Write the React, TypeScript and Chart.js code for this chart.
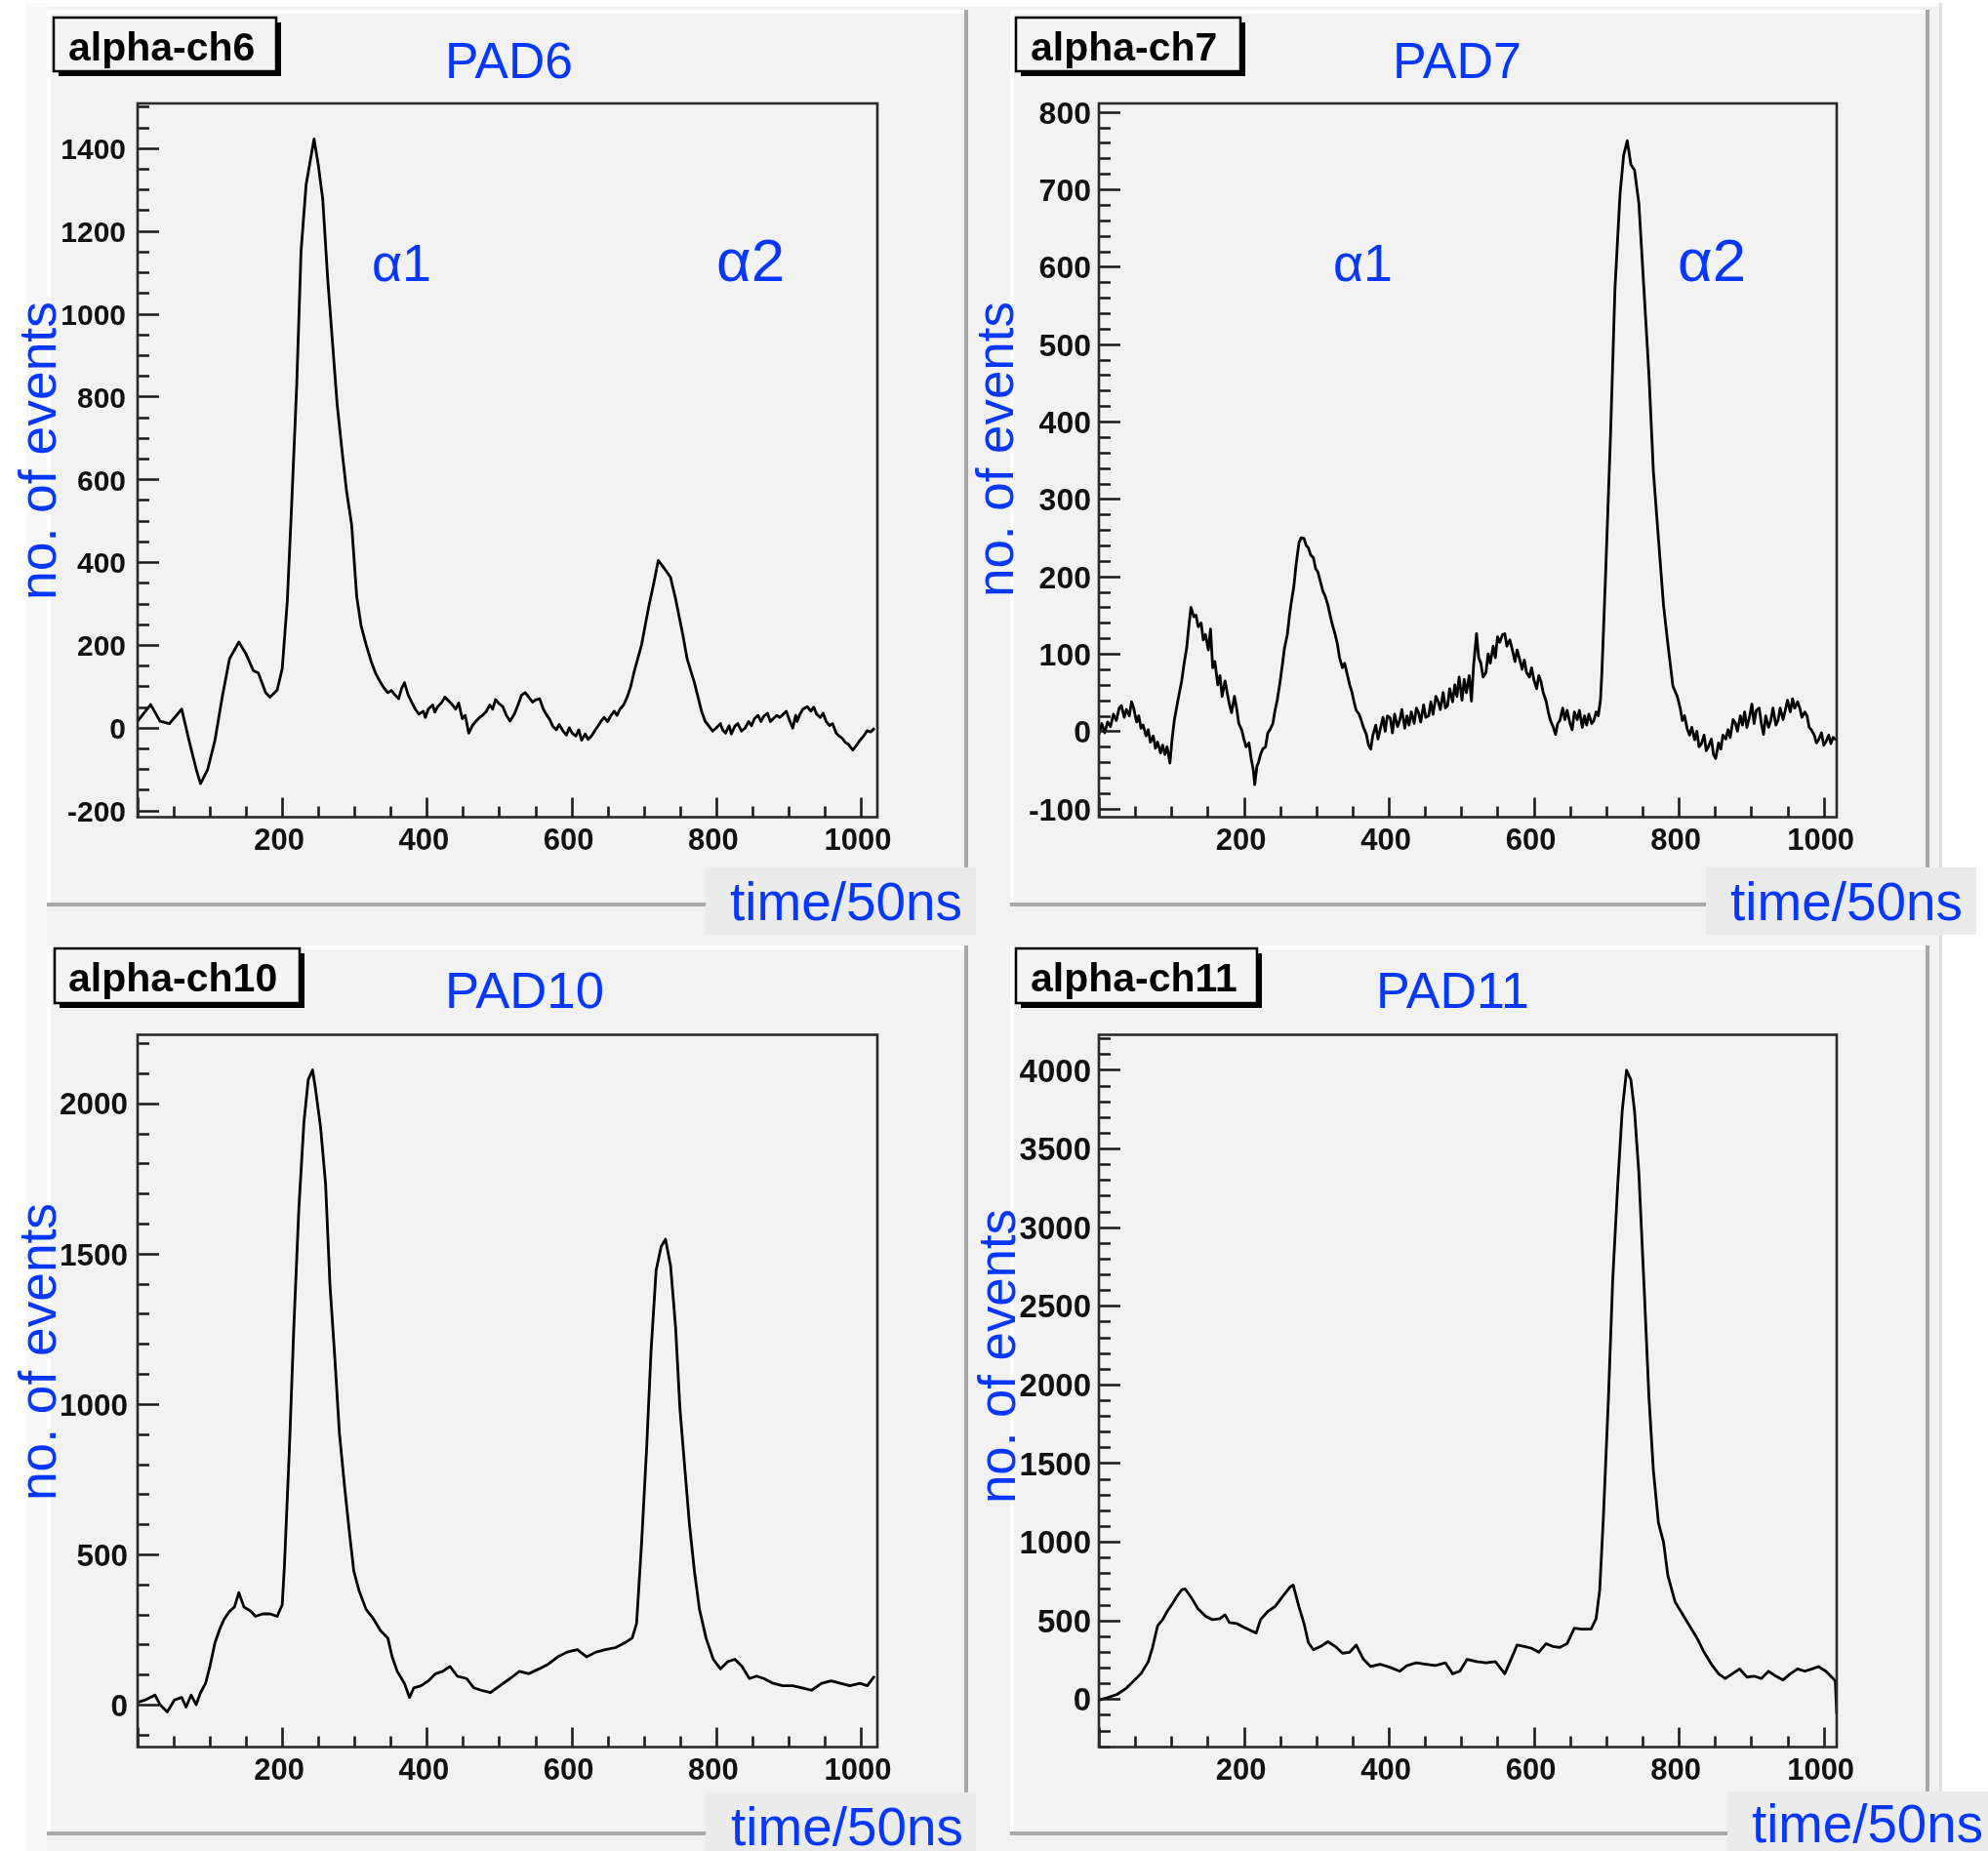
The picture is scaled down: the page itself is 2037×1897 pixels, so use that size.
import React, { useEffect, useRef } from 'react';
import { Chart, registerables } from 'chart.js';

Chart.register(...registerables);

const PAGE_W = 2037;
const PAGE_H = 1897;

// ---------------- data (time bin, counts) ----------------
const ch6Series: Array<[number, number]> = [
  [0,16],[18,56],[31,16],[44,10],[61,45],[71,-30],[81,-100],[87,-135],[97,-100],[107,-30],[117,74],[127,166],[140,207],[150,178],[160,138],[167,132],[177,85],[183,74],[193,91],[200,143],[207,305],[213,537],[220,826],[226,1150],[233,1312],[240,1382],[244,1422],[250,1358],[256,1277],[263,1081],[270,919],[276,780],[283,664],[289,571],[296,490],[303,317],[309,247],[316,201],[323,160],[329,132],[336,109],[341,95],[346,85],[351,90],[356,79],[361,70],[365,95],[369,109],[374,80],[379,62],[384,45],[389,33],[395,40],[398,25],[402,45],[408,55],[411,38],[415,51],[420,60],[425,74],[430,65],[435,56],[440,45],[444,60],[449,22],[453,30],[458,-13],[463,5],[468,16],[473,25],[477,30],[482,39],[487,55],[491,45],[495,68],[500,58],[505,51],[510,30],[515,16],[521,33],[526,55],[531,79],[536,85],[541,74],[546,62],[551,68],[556,70],[561,45],[566,30],[570,20],[574,4],[579,-5],[583,8],[588,-7],[593,-18],[597,0],[601,-13],[606,-20],[610,-5],[614,-30],[619,-15],[623,-28],[628,-19],[633,-5],[637,5],[641,16],[645,25],[650,15],[654,28],[659,40],[663,30],[667,45],[672,55],[677,74],[682,100],[687,138],[697,201],[707,294],[714,351],[720,404],[730,381],[737,363],[744,311],[754,224],[760,166],[770,109],[780,39],[785,15],[790,4],[795,-8],[800,-1],[806,10],[809,-5],[813,-13],[818,5],[821,-15],[826,4],[830,10],[835,-8],[840,-1],[845,15],[849,5],[853,22],[858,30],[862,15],[866,28],[871,35],[875,15],[879,22],[884,30],[888,25],[893,33],[897,40],[901,20],[906,-1],[910,30],[912,15],[916,33],[920,45],[926,51],[931,40],[935,50],[939,33],[944,25],[948,35],[952,16],[957,5],[961,10],[966,-13],[970,-20],[974,-25],[979,-36],[983,-40],[989,-54],[993,-45],[999,-30],[1004,-20],[1009,-7],[1014,-10],[1019,-1]
];
const ch7Series: Array<[number, number]> = [
  [0,-4],[4,10],[8,-2],[12,12],[16,6],[20,22],[24,14],[28,30],[31,33],[35,18],[38,28],[42,20],[45,38],[48,30],[52,12],[55,20],[58,4],[61,8],[65,-6],[68,2],[71,-14],[75,-6],[78,-22],[81,-14],[85,-28],[88,-18],[91,-30],[94,-20],[98,-41],[101,-10],[104,14],[109,40],[114,64],[118,90],[121,107],[124,135],[127,160],[131,148],[134,150],[137,135],[141,140],[144,118],[147,125],[151,105],[154,132],[157,82],[160,90],[164,60],[167,72],[170,45],[174,65],[177,50],[180,35],[183,24],[187,45],[190,30],[193,10],[197,2],[200,-10],[203,-20],[207,-15],[210,-35],[213,-50],[215,-69],[218,-45],[220,-41],[223,-30],[226,-23],[230,-20],[233,-2],[236,2],[240,10],[243,27],[246,40],[250,64],[253,85],[256,107],[260,125],[263,150],[266,170],[269,187],[272,215],[276,243],[279,250],[283,249],[286,240],[289,237],[292,228],[296,224],[299,210],[302,206],[306,192],[309,181],[312,175],[316,163],[319,150],[322,138],[326,125],[329,113],[332,95],[336,82],[339,88],[342,76],[346,60],[349,51],[352,38],[355,27],[359,22],[362,14],[365,5],[369,-4],[372,-18],[375,-23],[378,-5],[382,8],[385,-10],[388,2],[392,18],[395,0],[398,20],[402,17],[405,-2],[408,22],[412,6],[415,14],[418,28],[422,4],[425,20],[428,8],[431,25],[435,10],[438,30],[441,24],[444,12],[448,34],[451,18],[455,20],[458,38],[461,22],[465,45],[468,39],[471,28],[475,50],[478,30],[481,33],[484,55],[488,38],[491,60],[494,45],[497,70],[501,40],[504,67],[507,50],[511,72],[514,39],[517,85],[521,126],[524,95],[527,88],[530,70],[534,76],[537,100],[540,88],[544,110],[547,95],[550,122],[553,115],[557,125],[560,126],[563,110],[567,118],[570,107],[574,90],[577,105],[580,95],[584,80],[587,92],[590,76],[594,70],[597,82],[600,67],[604,55],[607,72],[610,64],[613,50],[617,39],[620,25],[623,14],[627,5],[630,-4],[633,10],[636,14],[640,30],[643,15],[646,27],[650,10],[653,2],[656,25],[660,15],[663,27],[667,5],[670,20],[673,8],[676,22],[680,10],[683,14],[686,25],[689,20],[692,40],[694,76],[699,200],[706,385],[712,571],[719,694],[724,744],[729,763],[734,732],[739,725],[745,682],[752,571],[759,459],[765,336],[772,249],[779,163],[785,113],[792,58],[798,45],[802,30],[805,14],[808,20],[812,2],[815,-5],[818,5],[822,-11],[825,0],[828,-20],[831,-17],[835,-5],[838,-25],[841,-20],[845,-10],[848,-30],[851,-35],[855,-15],[858,-23],[861,-5],[865,-10],[868,2],[871,-8],[875,15],[878,11],[881,0],[885,20],[888,8],[891,25],[894,5],[898,20],[901,35],[904,10],[907,27],[911,30],[914,10],[917,-4],[920,20],[924,5],[927,14],[930,30],[934,8],[937,14],[940,30],[944,15],[947,27],[950,40],[954,25],[957,42],[960,30],[964,38],[967,30],[970,18],[974,25],[977,20],[980,5],[983,2],[987,-5],[990,-15],[993,-11],[997,-2],[1000,-18],[1003,-14],[1007,-5],[1010,-16],[1013,-8],[1017,-11]
];
const ch10Series: Array<[number, number]> = [
  [0,8],[11,16],[24,32],[31,0],[41,-24],[51,16],[61,24],[67,-8],[74,32],[81,0],[87,40],[94,71],[100,127],[107,206],[114,254],[120,286],[127,310],[134,325],[140,373],[147,325],[157,310],[163,294],[173,302],[183,302],[193,294],[200,333],[203,460],[210,857],[216,1254],[223,1651],[230,1937],[236,2079],[242,2111],[246,2048],[253,1921],[260,1730],[266,1397],[273,1143],[279,905],[286,730],[293,571],[299,444],[306,381],[316,317],[326,286],[336,246],[346,222],[352,159],[359,111],[369,71],[376,24],[382,56],[392,63],[402,79],[412,103],[422,111],[432,127],[442,95],[455,87],[465,56],[475,48],[488,40],[501,63],[515,87],[528,111],[541,103],[555,119],[568,135],[581,159],[594,175],[608,183],[621,159],[634,175],[647,183],[661,190],[674,206],[684,222],[690,270],[697,540],[704,857],[710,1175],[717,1444],[724,1524],[730,1548],[737,1460],[744,1254],[750,984],[757,778],[763,603],[770,444],[777,317],[786,222],[796,151],[806,119],[816,143],[826,151],[836,127],[846,87],[856,95],[866,87],[879,71],[892,63],[906,63],[919,56],[932,48],[946,71],[959,79],[972,71],[985,63],[999,71],[1009,63],[1019,95]
];
const ch11Series: Array<[number, number]> = [
  [0,-6],[12,9],[25,30],[38,70],[48,116],[58,161],[68,237],[74,329],[81,466],[88,505],[94,557],[101,603],[107,649],[114,694],[119,700],[127,649],[137,572],[147,527],[157,505],[167,512],[174,536],[180,487],[190,481],[200,457],[210,435],[217,420],[223,505],[233,557],[243,588],[253,649],[263,709],[268,725],[276,588],[283,481],[289,359],[296,314],[306,335],[316,365],[326,335],[336,292],[346,298],[355,344],[365,253],[375,207],[388,222],[402,201],[415,177],[425,213],[438,231],[451,222],[464,213],[478,231],[488,161],[498,177],[508,253],[521,238],[534,231],[547,238],[560,161],[570,268],[577,344],[587,335],[597,323],[607,298],[617,353],[626,335],[636,329],[646,353],[656,451],[666,445],[679,445],[686,512],[691,694],[696,1151],[703,1912],[709,2674],[716,3283],[722,3739],[728,3998],[734,3937],[739,3739],[745,3343],[752,2643],[759,1912],[765,1456],[772,1121],[779,999],[785,786],[795,618],[805,542],[815,466],[825,390],[835,298],[845,222],[855,161],[864,131],[874,161],[884,192],[894,140],[904,146],[914,131],[924,177],[934,146],[944,122],[954,161],[964,192],[974,177],[984,192],[993,207],[1003,177],[1013,131],[1016,116],[1018,-95]
];

// ---------------- tick labels ----------------
const xTickLabels = [200, 400, 600, 800, 1000];
const ch6YTicks = [-200, 0, 200, 400, 600, 800, 1000, 1200, 1400];
const ch7YTicks = [-100, 0, 100, 200, 300, 400, 500, 600, 700, 800];
const ch10YTicks = [0, 500, 1000, 1500, 2000];
const ch11YTicks = [0, 500, 1000, 1500, 2000, 2500, 3000, 3500, 4000];

// ---------------- layout / styling ----------------
const BLUE = '#0537ff';
const SANS = '"Liberation Sans", Arial, Helvetica, sans-serif';

type Panel = {
  key: string; title: string; label: string; series: Array<[number, number]>;
  yTicks: number[]; yMin: number; yMax: number; yMinor: number; yMajor: number; xMax: number;
  area: number[]; pad: number[]; tbox: number[]; tx: number; tbase: number;
  padText: number[]; alphas: Array<[string, number, number, number]>;
  ylab: number[]; timeBox: number[]; timeText: number[]; yFont: number; yPad: number;
};

const PANELS: Panel[] = [
  {
    key: 'ch6', title: 'alpha-ch6', label: 'PAD6', series: ch6Series, yTicks: ch6YTicks,
    yMin: -216, yMax: 1508, yMinor: 50, yMajor: 200, xMax: 1023,
    area: [141, 106, 899, 837.5], pad: [48, 10, 992, 929], tbox: [55, 18, 228, 55], tx: 70, tbase: 62,
    padText: [456, 587, 80], alphas: [['α1', 381, 442, 288], ['α2', 734, 804, 288]],
    ylab: [57, 615, 309], timeBox: [723, 889, 1000, 958], timeText: [748, 986, 943], yFont: 30, yPad: 12,
  },
  {
    key: 'ch7', title: 'alpha-ch7', label: 'PAD7', series: ch7Series, yTicks: ch7YTicks,
    yMin: -111, yMax: 811, yMinor: 20, yMajor: 100, xMax: 1018,
    area: [1126, 106, 1882, 837.5], pad: [1035, 10, 1977, 929], tbox: [1041, 18, 230, 55], tx: 1056, tbase: 62,
    padText: [1427, 1559, 80], alphas: [['α1', 1366, 1427, 288], ['α2', 1719, 1789, 288]],
    ylab: [1038, 612, 309], timeBox: [1748, 889, 2025, 958], timeText: [1773, 2011, 943], yFont: 32, yPad: 8,
  },
  {
    key: 'ch10', title: 'alpha-ch10', label: 'PAD10', series: ch10Series, yTicks: ch10YTicks,
    yMin: -141, yMax: 2228, yMinor: 100, yMajor: 500, xMax: 1023,
    area: [141, 1060.5, 899, 1790.5], pad: [48, 969, 992, 1881], tbox: [56, 972, 251, 56], tx: 70, tbase: 1016,
    padText: [456, 619, 1033], alphas: [],
    ylab: [57, 1538, 1233], timeBox: [723, 1837, 1000, 1897], timeText: [749, 987, 1891], yFont: 31.5, yPad: 10,
  },
  {
    key: 'ch11', title: 'alpha-ch11', label: 'PAD11', series: ch11Series, yTicks: ch11YTicks,
    yMin: -305, yMax: 4223, yMinor: 100, yMajor: 500, xMax: 1018,
    area: [1126, 1060.5, 1882, 1790.5], pad: [1035, 969, 1977, 1881], tbox: [1041, 972, 247, 56], tx: 1056, tbase: 1016,
    padText: [1410, 1567, 1033], alphas: [],
    ylab: [1040, 1541, 1239], timeBox: [1770, 1836, 2037, 1897], timeText: [1795, 2032, 1888], yFont: 33, yPad: 8,
  },
];

// ---------------- drawing helpers ----------------
function drawPageBackground(ctx: CanvasRenderingContext2D) {
  ctx.fillStyle = '#ffffff';
  ctx.fillRect(0, 0, PAGE_W, PAGE_H);
  ctx.fillStyle = '#f2f2f2';
  ctx.fillRect(27, 3, 1963, PAGE_H - 3);
  ctx.fillStyle = '#f7f7f7';
  ctx.fillRect(27, 3, 21, PAGE_H - 3);
  ctx.fillStyle = '#fbfbfb';
  ctx.fillRect(27, 3, 1963, 4);
  ctx.fillStyle = '#dedede';
  ctx.fillRect(1987, 3, 3, PAGE_H - 3);
}

function drawPad(ctx: CanvasRenderingContext2D, pad: number[]) {
  const [x0, y0, x1, y1] = pad;
  ctx.fillStyle = '#f2f2f2';
  ctx.fillRect(x0, y0, x1 - x0, y1 - y0);
  ctx.fillStyle = '#ffffff';
  ctx.fillRect(x0, y0, x1 - x0, 4);
  ctx.fillRect(x0, y0, 4, y1 - y0);
  ctx.fillStyle = '#a7a7a7';
  ctx.fillRect(x1 - 4, y0, 4, y1 - y0);
  ctx.fillRect(x0, y1 - 4, x1 - x0, 4);
}

function fitFont(ctx: CanvasRenderingContext2D, text: string, width: number, family: string, weight = '') {
  ctx.font = `${weight} 100px ${family}`;
  const w = ctx.measureText(text).width || 1;
  const size = (100 * width) / w;
  ctx.font = `${weight} ${size}px ${family}`;
  return size;
}

function makeDecor(p: Panel, withPage: boolean) {
  return {
    id: 'decor_' + p.key,
    beforeDraw(chart: any) {
      const ctx: CanvasRenderingContext2D = chart.ctx;
      ctx.save();
      if (withPage) drawPageBackground(ctx);
      drawPad(ctx, p.pad);
      ctx.restore();
    },
    afterDraw(chart: any) {
      const ctx: CanvasRenderingContext2D = chart.ctx;
      const { left, right, top, bottom } = chart.chartArea;
      const xs = chart.scales.x;
      const ys = chart.scales.y;
      ctx.save();
      // inward ticks
      ctx.strokeStyle = '#1a1a1a';
      ctx.lineWidth = 2.6;
      ctx.beginPath();
      for (let v = 0; v <= xs.max + 1e-6; v += 50) {
        const px = Math.round(xs.getPixelForValue(v)) + 0.5;
        const len = Math.abs(v % 200) < 1e-6 ? 20 : 11;
        ctx.moveTo(px, bottom);
        ctx.lineTo(px, bottom - len);
      }
      const start = Math.ceil(ys.min / p.yMinor) * p.yMinor;
      for (let v = start; v <= ys.max + 1e-6; v += p.yMinor) {
        const py = Math.round(ys.getPixelForValue(v)) + 0.5;
        const len = Math.abs(v % p.yMajor) < 1e-6 ? 22 : 12;
        ctx.moveTo(left, py);
        ctx.lineTo(left + len, py);
      }
      ctx.stroke();
      // frame
      ctx.strokeStyle = '#2a2a2a';
      ctx.lineWidth = 2.6;
      ctx.strokeRect(left, top, right - left, bottom - top);

      // title box with shadow
      const [bx, by, bw, bh] = p.tbox;
      ctx.fillStyle = '#000000';
      ctx.fillRect(bx + 5, by + 5, bw, bh);
      ctx.fillStyle = '#f4f4f4';
      ctx.fillRect(bx, by, bw, bh);
      ctx.strokeStyle = '#000000';
      ctx.lineWidth = 2.5;
      ctx.strokeRect(bx, by, bw, bh);
      ctx.fillStyle = '#000000';
      ctx.font = `bold 41px ${SANS}`;
      ctx.textAlign = 'left';
      ctx.textBaseline = 'alphabetic';
      ctx.fillText(p.title, p.tx, p.tbase);

      // blue annotations
      ctx.fillStyle = BLUE;
      fitFont(ctx, p.label, p.padText[1] - p.padText[0], SANS);
      ctx.fillText(p.label, p.padText[0], p.padText[2]);
      p.alphas.forEach(([t, l, r, b]) => {
        fitFont(ctx, t, r - l, SANS);
        ctx.fillText(t, l, b);
      });

      // rotated y label
      const [lx, ly0, ly1] = p.ylab;
      ctx.save();
      ctx.translate(lx, ly0);
      ctx.rotate(-Math.PI / 2);
      fitFont(ctx, 'no. of events', ly0 - ly1, SANS);
      ctx.fillText('no. of events', 0, 0);
      ctx.restore();

      // x label box
      const [tx0, ty0, tx1, ty1] = p.timeBox;
      ctx.fillStyle = '#ebebeb';
      ctx.fillRect(tx0, ty0, tx1 - tx0, ty1 - ty0);
      ctx.fillStyle = BLUE;
      fitFont(ctx, 'time/50ns', p.timeText[1] - p.timeText[0], SANS);
      ctx.fillText('time/50ns', p.timeText[0], p.timeText[2]);
      ctx.restore();
    },
  };
}

const Y_W = 150;
const X_H = 70;

function makeChart(canvas: HTMLCanvasElement, p: Panel, withPage: boolean) {
  const [l, t, r, b] = p.area;
  return new Chart(canvas, {
    type: 'line',
    data: {
      datasets: [
        {
          data: p.series.map(([x, y]) => ({ x, y })),
          borderColor: '#000000',
          borderWidth: 2.8,
          borderJoinStyle: 'round',
          pointRadius: 0,
          tension: 0,
          fill: false,
        },
      ],
    },
    options: {
      responsive: false,
      animation: false,
      devicePixelRatio: 1,
      events: [],
      layout: { padding: { left: l - Y_W, top: t, right: PAGE_W - r, bottom: PAGE_H - b - X_H } },
      plugins: { legend: { display: false }, tooltip: { enabled: false }, title: { display: false } },
      scales: {
        x: {
          type: 'linear',
          position: 'bottom',
          min: 0,
          max: p.xMax,
          afterFit: (s: any) => { s.height = X_H; },
          afterBuildTicks: (s: any) => { s.ticks = xTickLabels.map((v) => ({ value: v })); },
          grid: { display: false, drawTicks: false },
          border: { display: false },
          ticks: {
            autoSkip: false, maxRotation: 0, minRotation: 0, padding: 6, labelOffset: -3,
            color: '#111111', font: { family: SANS, size: 31, weight: 'bold' },
            callback: (v: any) => String(v),
          },
        },
        y: {
          type: 'linear',
          position: 'left',
          min: p.yMin,
          max: p.yMax,
          afterFit: (s: any) => { s.width = Y_W; },
          afterBuildTicks: (s: any) => { s.ticks = p.yTicks.map((v) => ({ value: v })); },
          grid: { display: false, drawTicks: false },
          border: { display: false },
          ticks: {
            autoSkip: false, padding: p.yPad, labelOffset: 3,
            color: '#111111', font: { family: SANS, size: p.yFont, weight: 'bold' },
            callback: (v: any) => String(v),
          },
        },
      },
    } as any,
    plugins: [makeDecor(p, withPage)],
  });
}

export default function App() {
  const refs = useRef<Array<HTMLCanvasElement | null>>([]);
  useEffect(() => {
    const charts = PANELS.map((p, i) => makeChart(refs.current[i] as HTMLCanvasElement, p, i === 0));
    return () => charts.forEach((c) => c.destroy());
  }, []);
  return (
    <div style={{ position: 'absolute', left: 0, top: 0, width: PAGE_W, height: PAGE_H, overflow: 'hidden', background: '#ffffff' }}>
      {PANELS.map((p, i) => (
        <canvas
          key={p.key}
          ref={(el) => { refs.current[i] = el; }}
          width={PAGE_W}
          height={PAGE_H}
          style={{ position: 'absolute', left: 0, top: 0, width: PAGE_W, height: PAGE_H }}
        />
      ))}
    </div>
  );
}
